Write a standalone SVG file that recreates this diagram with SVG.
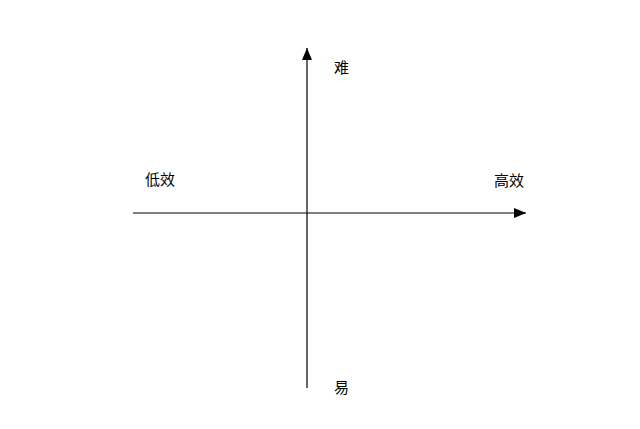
<svg xmlns="http://www.w3.org/2000/svg" width="640" height="429" viewBox="0 0 640 429">
<style>
.ax{stroke:#000;stroke-width:1.2;fill:none}
.lbl{font-family:"Liberation Serif","Noto Sans CJK SC",serif;font-size:15px;fill:#000}
</style>
<defs>
<marker id="ah" viewBox="0 0 12 10" refX="12" refY="5" markerWidth="12" markerHeight="10" markerUnits="userSpaceOnUse" orient="auto">
<path d="M0,0 L12,5 L0,10 Z" fill="#000"/>
</marker>
</defs>
<rect width="640" height="429" fill="#fff"/>
<g id="connectors">
<line class="ax" x1="307" y1="388" x2="307" y2="48" marker-end="url(#ah)"/>
<line class="ax" x1="133" y1="213" x2="526" y2="213" marker-end="url(#ah)"/>
</g>
<g id="hard"><text class="lbl" x="334" y="73">难</text></g>
<g id="low"><text class="lbl" x="145" y="185">低效</text></g>
<g id="high"><text class="lbl" x="494" y="186">高效</text></g>
<g id="easy"><text class="lbl" x="334" y="393">易</text></g>
</svg>
